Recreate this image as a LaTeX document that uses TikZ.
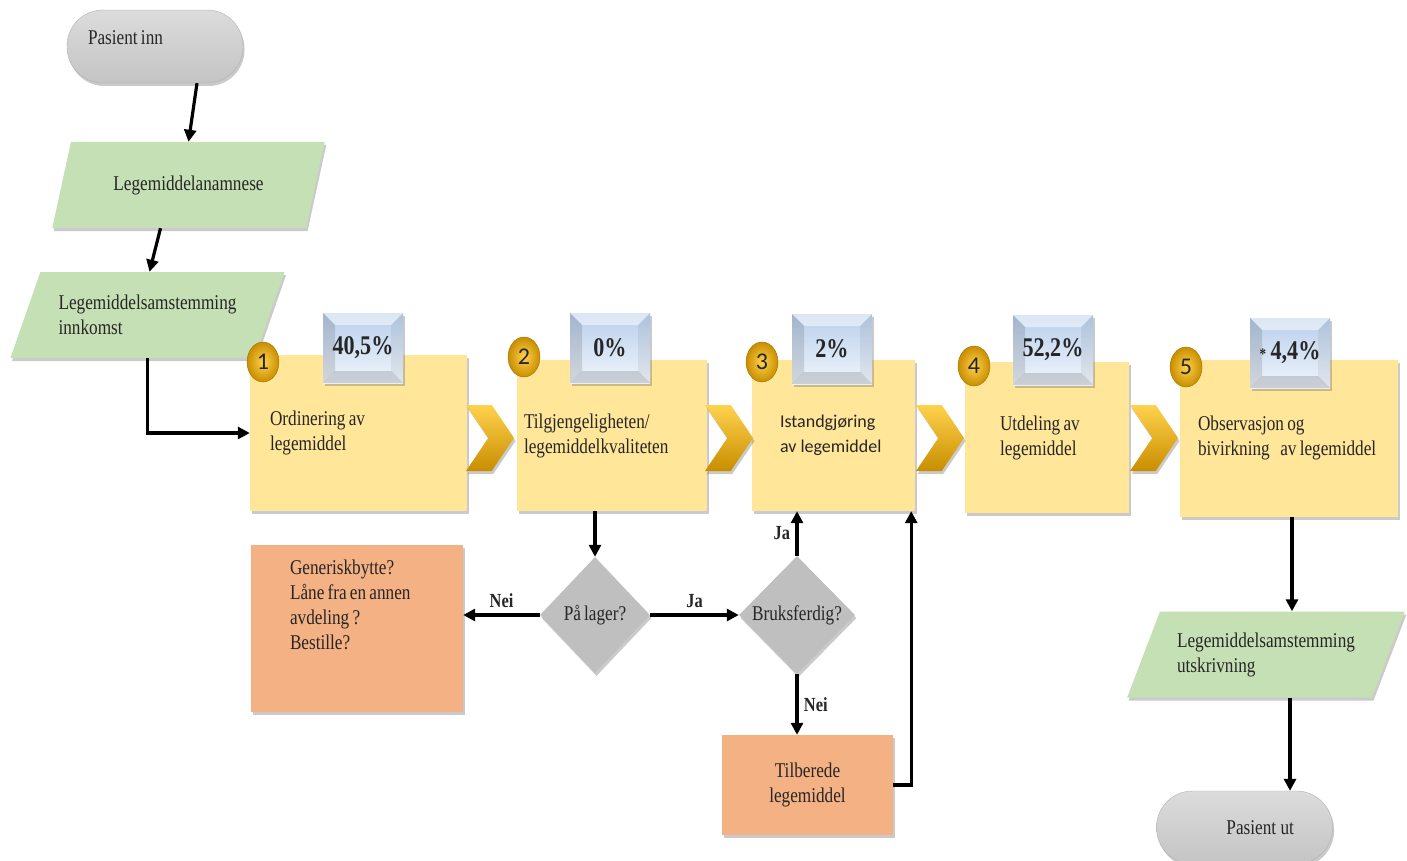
\documentclass[tikz,border=0pt]{standalone}
\usepackage{fontspec}
\setmainfont{Liberation Serif}[FakeStretch=0.82, WordSpace=0.75]
\newfontfamily\ballfont{Carlito}
\usepackage{tikz}
\usetikzlibrary{shapes.geometric, shapes.symbols, shadows, positioning, arrows.meta}

\definecolor{stepyellow}{HTML}{FFE699}
\definecolor{iogreen}{HTML}{C5E0B4}
\definecolor{actorange}{HTML}{F4B183}
\definecolor{termgray}{HTML}{C4C4C4}
\definecolor{decgray}{HTML}{BFBFBF}
\definecolor{pcttop}{HTML}{B9CFEB}
\definecolor{pctbot}{HTML}{F0F5FC}
\definecolor{goldlight}{HTML}{FFD24D}
\definecolor{golddark}{HTML}{C98E00}

\begin{document}
\begin{tikzpicture}[
        x=1pt, y=-1pt,
        every node/.style={font=\fontsize{21}{25}\selectfont, text=black!85, execute at begin node={\spaceskip=0pt\xspaceskip=0pt}},
        softshadow/.style={drop shadow={shadow xshift=1.5pt, shadow yshift=-3pt, opacity=.35, fill=black!60}},
        term/.style={rectangle, rounded corners=36pt, top color=termgray!60, bottom color=termgray, draw=black!30, softshadow, minimum width=176pt, minimum height=73pt, inner sep=0pt},
        io/.style={trapezium, trapezium left angle=58, trapezium right angle=122, trapezium stretches=true, fill=iogreen, softshadow, minimum height=86pt, inner sep=0pt, align=left},
        stepbox/.style={rectangle, fill=stepyellow, softshadow, inner sep=0pt, align=left},
        decision/.style={diamond, fill=decgray, softshadow, inner sep=0pt},
        action/.style={rectangle, fill=actorange, softshadow, inner sep=0pt},
        chev/.style={signal, signal to=east, signal from=west, signal pointer angle=112, top color=goldlight, bottom color=golddark, minimum width=48pt, minimum height=66pt, inner sep=0pt, softshadow},
        numball/.style={ellipse, inner color=goldlight, outer color=golddark, draw=golddark!80!black, minimum width=32pt, minimum height=40pt, inner sep=0pt, font=\ballfont\fontsize{24}{24}\selectfont},
        pct/.style={rectangle, minimum width=80pt, minimum height=70pt, inner sep=0pt, top color=pcttop, bottom color=pctbot, softshadow, font=\bfseries\fontsize{27}{30}\selectfont,
            path picture={
                \path (path picture bounding box.north west) coordinate (pnw)
                      (path picture bounding box.north east) coordinate (pne)
                      (path picture bounding box.south west) coordinate (psw)
                      (path picture bounding box.south east) coordinate (pse);
                \fill[white, opacity=.5] (pnw) -- (pne) -- ([shift={(-12pt,-12pt)}]pne) -- ([shift={(12pt,-12pt)}]pnw) -- cycle;
                \fill[black, opacity=.12] (pnw) -- (psw) -- ([shift={(12pt,12pt)}]psw) -- ([shift={(12pt,-12pt)}]pnw) -- cycle;
                \fill[black, opacity=.06] (pne) -- (pse) -- ([shift={(-12pt,12pt)}]pse) -- ([shift={(-12pt,-12pt)}]pne) -- cycle;
                \fill[black, opacity=.15] (psw) -- (pse) -- ([shift={(-12pt,12pt)}]pse) -- ([shift={(12pt,12pt)}]psw) -- cycle;
            }},
        conn/.style={-{Triangle[length=12pt, width=12pt]}, line width=3.2pt},
        lbl/.style={font=\bfseries\fontsize{20}{22}\selectfont}
    ]
    \useasboundingbox (0,0) rectangle (1407,861);
%
    % start and intake
    \node[term, text width=134pt, align=left, text depth=17.5pt] (pin) at (155,46.5) {Pasient inn};
    \node[io, minimum width=273pt] (anam) at (188.5,185) {Legemiddelanamnese};
    \node[io, minimum width=275pt] (innk) at (147.5,315) {Legemiddelsamstemming\\innkomst};
%
    % process steps
    \node[stepbox, minimum width=217pt, minimum height=156pt, text width=177pt] (s1) at (358.5,433) {Ordinering~av\\legemiddel};
    \node[stepbox, minimum width=190pt, minimum height=151pt, text width=176pt] (s2) at (612,435.5) {Tilgjengeligheten/\\legemiddelkvaliteten};
    \node[stepbox, minimum width=163pt, minimum height=151pt, text width=107pt, font=\ballfont\fontsize{18}{25}\selectfont] (s3) at (833.5,435.5) {Istandgjøring\\\mbox{av legemiddel}};
    \node[stepbox, minimum width=164pt, minimum height=151pt, text width=94pt] (s4) at (1047,437.5) {Utdeling~av\\legemiddel};
    \node[stepbox, minimum width=218pt, minimum height=157pt, text width=182pt] (s5) at (1289,438) {Observasjon~og\\\mbox{bivirkning\enspace av legemiddel}};
%
    \node[chev] (c12) at (490,438) {};
    \node[chev] (c23) at (729,438) {};
    \node[chev] (c34) at (940,438) {};
    \node[chev] (c45) at (1154,438) {};
%
    \node[pct] (p1) at (363,348) {40,5\%};
    \node[pct] (p2) at (610,348) {0\%};
    \node[pct] (p3) at (832,349) {2\%};
    \node[pct] (p4) at (1053,350) {52,2\%};
    \node[pct] (p5) at (1290,353) {{\fontsize{16}{16}\selectfont*}\,4,4\%};
%
    \node[numball] (n1) at (263,362) {1};
    \node[numball] (n2) at (524,357) {2};
    \node[numball] (n3) at (762,362) {3};
    \node[numball] (n4) at (974,366) {4};
    \node[numball] (n5) at (1186,367) {5};
%
    % decisions below step 2 and 3
    \node[decision, minimum width=110pt, minimum height=116pt] (d1) at (595,615) {På lager?};
    \node[decision, minimum width=116pt, minimum height=118pt] (d2) at (797,615) {Bruksferdig?};
    \node[action, minimum width=212pt, minimum height=167pt] (gen) at (357,628.5) {\parbox[c][137pt][t]{134pt}{\raggedright Generiskbytte?\\Låne~fra~en~annen\\avdeling~?\\Bestille?}};
    \node[action, minimum width=171pt, minimum height=100pt, align=center] (tilb) at (807.5,785) {Tilberede\\legemiddel};
%
    % discharge
    \node[io, minimum width=278pt] (utsk) at (1266,654.5) {Legemiddelsamstemming\\utskrivning};
    \node[term, text width=99pt, align=right] (pout) at (1244.5,827.5) {Pasient ut};
%
    \draw[conn] ([xshift=42pt]pin.south) -- (anam.north);
    \draw[conn] ([xshift=-28pt]anam.south) -- ([xshift=2pt]innk.north);
    \draw[conn] (innk.south) |- (s1.west);
    \draw[conn] (d1.north |- s2.south) -- (d1.north);
    \draw[conn] (d1.west) -- node[lbl, above=2pt] (nei1) {Nei} (d1.west -| gen.east);
    \draw[conn] (d1.east) -- node[lbl, above=2pt] (ja1) {Ja} (d2.west);
    \draw[conn] (d2.north) -- node[lbl, left=2pt] (ja2) {Ja} (d2.north |- s3.south);
    \draw[conn] (d2.south) -- node[lbl, right=2pt] (nei2) {Nei} (d2.south |- tilb.north);
    \draw[conn] (tilb.east) -| ([xshift=-4pt]s3.south east);
    \draw[conn] ([xshift=3pt]s5.south) -- ([xshift=3pt]s5.south |- utsk.north);
    \draw[conn] ([xshift=24pt]utsk.south) -- ([xshift=24pt]utsk.south |- pout.north);
%
\end{tikzpicture}
\end{document}
